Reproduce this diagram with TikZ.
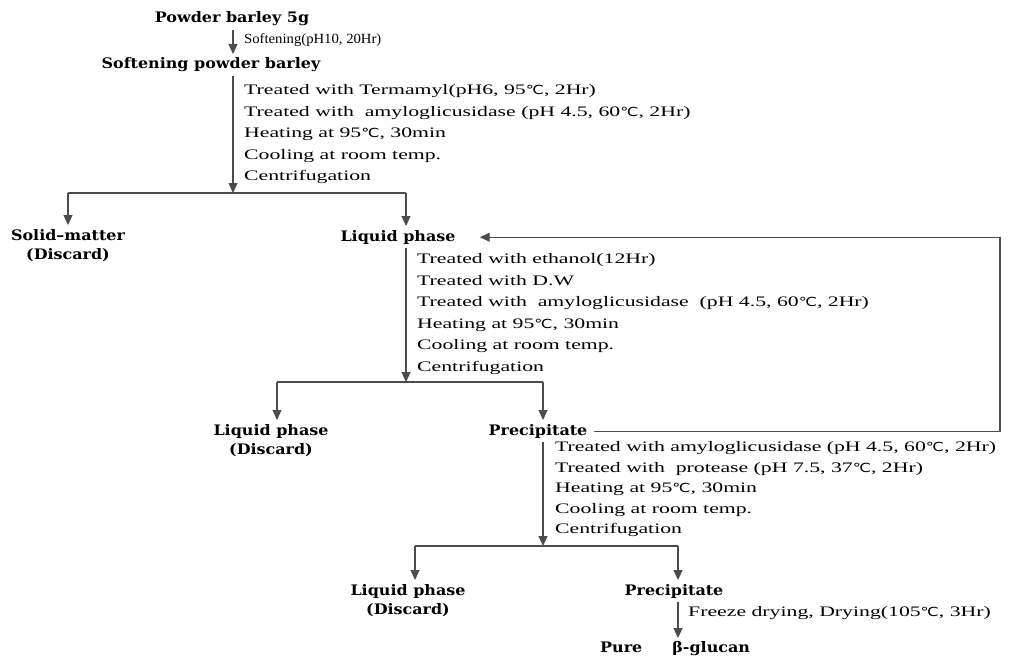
\documentclass[tikz,border=0pt]{standalone}
\usepackage{fontspec}
\setmainfont{Liberation Serif}[FakeStretch=1.5]
\newfontfamily\headf{DejaVu Serif}[FakeStretch=1.1]
\newfontfamily\symf{DejaVu Sans}[FakeStretch=1.3]
\usetikzlibrary{arrows.meta,calc}
\newcommand{\dC}{{\symf\fontsize{12.5}{12}\selectfont ℃}}
\begin{document}
\begin{tikzpicture}[x=1pt,y=-1pt,
  ln/.style={line width=1.1pt, draw=black!70},
  arr/.style={ln,-{Triangle[width=9pt,length=10pt]}},
  head/.style={font=\headf\fontsize{14.5}{19.5}\selectfont\bfseries, inner sep=0pt, align=center, anchor=north},
  lab/.style={font=\fontsize{14.5}{21.5}\selectfont, align=left, anchor=north west, inner sep=0pt},
]
\useasboundingbox[fill=white] (0,0) rectangle (1014,661);

% headings (anchor north, y = text row - 6)
\node[head] (pb) at (232,11) {Powder barley 5g};
\node[head] (spb) at (211,57) {Softening powder barley};
\node[head] (sm) at (68,229) {Solid–matter\\(Discard)};
\node[head] (lp1) at (398,230) {Liquid phase};
\node[head] (lp2) at (271,424) {Liquid phase\\(Discard)};
\node[head] (pr1) at (538,424) {Precipitate};
\node[head] (lp3) at (408,584) {Liquid phase\\(Discard)};
\node[head] (pr2) at (674,584) {Precipitate};
\node[head, anchor=north west] (pg) at (600,641) {Pure\hspace{30pt}β-glucan};

% junction coordinates
\coordinate (c1) at (233,0);
\coordinate (h1) at (233,193);
\coordinate (h1l) at (68,193);
\coordinate (h1r) at (406,193);
\coordinate (h2) at (406,382);
\coordinate (h2l) at (277,382);
\coordinate (h2r) at (543,382);
\coordinate (h3) at (543,546);
\coordinate (h3l) at (415,546);
\coordinate (h3r) at (678,546);
\coordinate (fb) at (1000,0);

% step 0
\draw[arr, shorten <=4pt, shorten >=3pt] (pb.south -| c1) -- (spb.north -| c1);
\node[lab, anchor=west, font=\fontsize{14}{15}\selectfont\addfontfeatures{FakeStretch=1.05}] (l0) at (244,40) {Softening(pH10, 20Hr)};

% block 1
\draw[arr, shorten <=4pt] (spb.south -| c1) -- (h1);
\node[lab] (l1) at (244,84.5) {Treated with Termamyl(pH6, 95\dC, 2Hr)\\
Treated with~ amyloglicusidase (pH 4.5, 60\dC, 2Hr)\\
Heating at 95\dC, 30min\\
Cooling at room temp.\\
Centrifugation};
\draw[ln] (h1l) -- (h1r);
\draw[arr, shorten >=4pt] (h1l) -- (h1l |- sm.north);
\draw[arr, shorten >=4pt] (h1r) -- (h1r |- lp1.north);

% block 2
\draw[arr, shorten <=4pt] (lp1.south -| h1r) -- (h2);
\node[lab] (l2) at (417,253.5) {Treated with ethanol(12Hr)\\
Treated with D.W\\
Treated with~ amyloglicusidase~ (pH 4.5, 60\dC, 2Hr)\\
Heating at 95\dC, 30min\\
Cooling at room temp.\\
Centrifugation};
\draw[ln] (h2l) -- (h2r);
\draw[arr, shorten >=4pt] (h2l) -- (h2l |- lp2.north);
\draw[arr, shorten >=4pt] (h2r) -- (h2r |- pr1.north);

% feedback loop
\draw[arr, shorten <=6pt, shorten >=24pt] (pr1.east) -- (pr1.east -| fb) |- (lp1.east);

% block 3
\draw[arr, shorten <=4pt] (pr1.south -| h2r) -- (h3);
\node[lab, font=\fontsize{14.5}{20.5}\selectfont] (l3) at (555,441.5) {Treated with amyloglicusidase (pH 4.5, 60\dC, 2Hr)\\
Treated with~ protease (pH 7.5, 37\dC, 2Hr)\\
Heating at 95\dC, 30min\\
Cooling at room temp.\\
Centrifugation};
\draw[ln] (h3l) -- (h3r);
\draw[arr, shorten >=4pt] (h3l) -- (h3l |- lp3.north);
\draw[arr, shorten >=4pt] (h3r) -- (h3r |- pr2.north);

% final step
\draw[arr, shorten <=4pt, shorten >=3pt] (pr2.south -| h3r) -- (pg.north -| h3r);
\node[lab, anchor=west] (l4) at (688,613) {Freeze drying, Drying(105\dC, 3Hr)};
\end{tikzpicture}
\end{document}
